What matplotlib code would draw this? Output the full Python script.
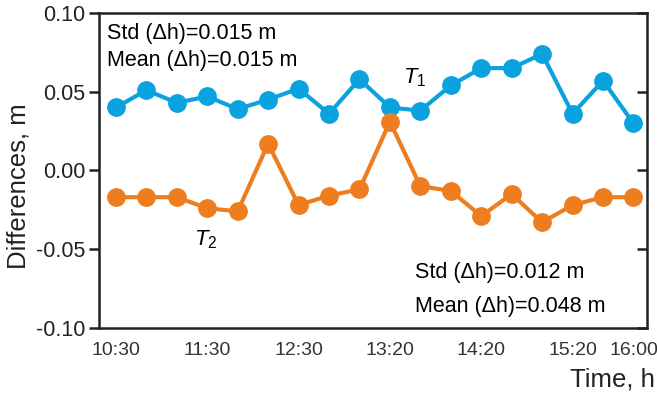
import numpy as np
import matplotlib.pyplot as plt

plt.rcParams['font.family'] = ['Liberation Sans', 'DejaVu Sans']
plt.rcParams['mathtext.fontset'] = 'custom'
plt.rcParams['mathtext.it'] = 'Liberation Sans:italic'
plt.rcParams['mathtext.rm'] = 'Liberation Sans'

# x positions are the sample index; labels only on some of them
tick_idx = [0, 3, 6, 9, 12, 15, 17]
tick_labels = ["10:30", "11:30", "12:30", "13:20", "14:20", "15:20", "16:00"]

t1 = [0.040, 0.051, 0.043, 0.047, 0.039, 0.045, 0.052, 0.036, 0.058,
      0.040, 0.038, 0.054, 0.065, 0.065, 0.074, 0.036, 0.057, 0.030]
t2 = [-0.017, -0.017, -0.017, -0.024, -0.026, 0.017, -0.022, -0.016, -0.012,
      0.031, -0.010, -0.013, -0.029, -0.015, -0.033, -0.022, -0.017, -0.017]

c_t1 = "#0AA2DF"
c_t2 = "#EE7D1F"

fig = plt.figure(figsize=(6.57, 3.95), dpi=100)
ax = fig.add_axes([0.151, 0.170, 0.834, 0.797])

x = np.arange(len(t1))
ax.plot(x, t1, '-o', color=c_t1, lw=3.0, ms=12.5, zorder=3)
ax.plot(x, t2, '-o', color=c_t2, lw=3.0, ms=12.5, zorder=3)

ax.set_xlim(-0.55, 17.45)
ax.set_ylim(-0.10, 0.10)
ax.set_yticks([-0.10, -0.05, 0.00, 0.05, 0.10])
ax.set_yticklabels(["-0.10", "-0.05", "0.00", "0.05", "0.10"])
ax.set_xticks(tick_idx)
ax.set_xticklabels(tick_labels)

for s in ax.spines.values():
    s.set_linewidth(1.8)
    s.set_color("#222222")

ax.tick_params(axis='y', which='both', direction='out', length=7, width=1.8,
               labelsize=15.5, colors="#222222", right=True, pad=3)
ax.tick_params(axis='x', length=0, labelsize=14, colors="#333333", pad=10)
# right ticks point inward
for tl in ax.yaxis.get_ticklines():
    if tl.get_marker() == 1:
        tl.set_marker(0)

ax.set_ylabel("Differences, m", fontsize=18.5, color="#222222")
ax.yaxis.set_label_coords(-0.126, 0.45)
fig.text(655 / 657, 1 - 380 / 395, "Time, h", fontsize=18.5,
         color="#222222", ha='right', va='center')

fs = 15.5
ax.text(0.015, 0.935, "Std (\u0394h)=0.015 m", transform=ax.transAxes,
        fontsize=fs, va='center', ha='left')
ax.text(0.015, 0.85, "Mean (\u0394h)=0.015 m", transform=ax.transAxes,
        fontsize=fs, va='center', ha='left')
ax.text(0.577, 0.175, "Std (\u0394h)=0.012 m", transform=ax.transAxes,
        fontsize=fs, va='center', ha='left')
ax.text(0.577, 0.068, "Mean (\u0394h)=0.048 m", transform=ax.transAxes,
        fontsize=fs, va='center', ha='left')

ax.text(9.8, 0.059, r"$T_1$", fontsize=16, ha='center', va='center')
ax.text(2.95, -0.044, r"$T_2$", fontsize=16, ha='center', va='center')

fig.savefig("out.png", dpi=100)
